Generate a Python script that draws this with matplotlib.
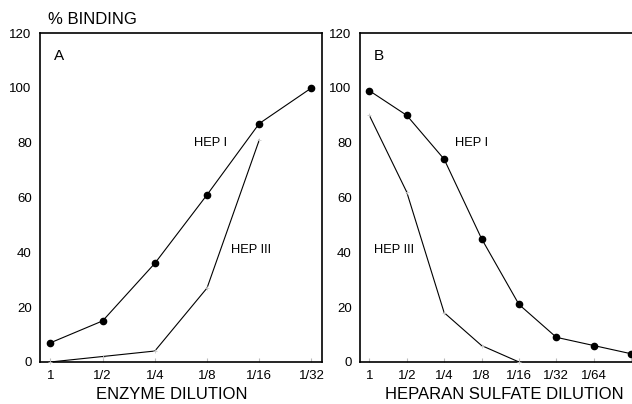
import matplotlib.pyplot as plt

plt.rcParams["font.family"] = ["Liberation Sans", "DejaVu Sans"]

# panel A
enzyme_labels = ["1", "1/2", "1/4", "1/8", "1/16", "1/32"]
a_hep1 = [7, 15, 36, 61, 87, 100]
a_hep3 = [0, 2, 4, 27, 81]

# panel B
heparan_labels = ["1", "1/2", "1/4", "1/8", "1/16", "1/32", "1/64", ""]
b_hep1 = [99, 90, 74, 45, 21, 9, 6, 3]
b_hep3 = [90, 62, 18, 6, 0]

yticks = [0, 20, 40, 60, 80, 100, 120]


def style_axes(ax, labels, xlim):
    ax.set_ylim(0, 120)
    ax.set_xlim(*xlim)
    ax.set_yticks(yticks)
    ax.set_xticks(range(len(labels)), labels)
    ax.tick_params(axis="y", length=0, pad=6, labelsize=9.5)
    ax.tick_params(axis="x", direction="in", length=3, color="#bbbbbb", pad=6, labelsize=9.5)
    for s in ax.spines.values():
        s.set_linewidth(1.2)


def draw(ax, hep1, hep3):
    ax.plot(range(len(hep1)), hep1, color="black", lw=0.8, marker="o", ms=4.5, clip_on=False, zorder=3)
    ax.plot(range(len(hep3)), hep3, color="black", lw=0.8, marker="+", ms=3,
            mec="#cccccc", mew=0.6, clip_on=False, zorder=3)


fig = plt.figure(figsize=(6.32, 4.04), dpi=100)

ax1 = fig.add_axes([0.0633, 0.104, 0.446, 0.814])
draw(ax1, a_hep1, a_hep3)
style_axes(ax1, enzyme_labels, (-0.2, 5.2))
ax1.set_xlabel("ENZYME DILUTION", fontsize=12)
ax1.xaxis.set_label_coords(0.466, -0.075)
ax1.text(0.05, 0.93, "A", transform=ax1.transAxes, fontsize=11, va="center")
ax1.text(2.75, 80, "HEP I", fontsize=9.3, va="center")
ax1.text(3.45, 41, "HEP III", fontsize=9.3, va="center")

ax2 = fig.add_axes([0.5696, 0.104, 0.435, 0.814])
draw(ax2, b_hep1, b_hep3)
style_axes(ax2, heparan_labels, (-0.25, 7.1))
ax2.spines["right"].set_visible(False)
ax2.set_xlabel("HEPARAN SULFATE DILUTION", fontsize=12)
ax2.xaxis.set_label_coords(0.525, -0.075)
ax2.text(0.05, 0.93, "B", transform=ax2.transAxes, fontsize=11, va="center")
ax2.text(2.3, 80, "HEP I", fontsize=9.3, va="center")
ax2.text(0.12, 41, "HEP III", fontsize=9.3, va="center")

fig.text(48 / 632, (404 - 20) / 404, "% BINDING", fontsize=12, va="center")

fig.savefig("out.png", dpi=100)
